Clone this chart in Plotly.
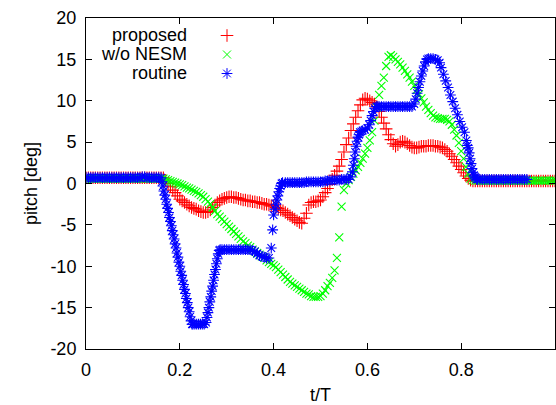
import plotly.graph_objects as go

# ---- data ----
series_names = ["proposed", "w/o NESM", "routine"]
x_tick_vals = [0, 0.2, 0.4, 0.6, 0.8, 1.0]
x_tick_text = ["0", "0.2", "0.4", "0.6", "0.8", "1"]
y_tick_vals = [-20, -15, -10, -5, 0, 5, 10, 15, 20]
y_tick_text = ["-20", "-15", "-10", "-5", "0", "5", "10", "15", "20"]

# proposed: sampled every 0.005 of t/T from 0 to 1
pitch_proposed = [
    0.7, 0.7, 0.7, 0.7, 0.7, 0.7, 0.7, 0.7, 0.7, 0.7,
    0.7, 0.7, 0.7, 0.7, 0.7, 0.7, 0.7, 0.7, 0.7, 0.7,
    0.7, 0.7, 0.7, 0.7, 0.7, 0.7, 0.7, 0.7, 0.7, 0.7,
    0.7, 0.7, 0.7, 0.7, 0.4, 0.0, -0.4, -0.8, -1.1, -1.5,
    -1.9, -2.1, -2.3, -2.5, -2.7, -2.9, -3.0, -3.1, -3.3, -3.4,
    -3.5, -3.5, -3.4, -3.2, -2.9, -2.6, -2.3, -2.1, -1.9, -1.8,
    -1.7, -1.6, -1.6, -1.7, -1.7, -1.8, -1.9, -2.0, -2.0, -2.1,
    -2.1, -2.2, -2.2, -2.3, -2.3, -2.4, -2.5, -2.5, -2.6, -2.7,
    -2.7, -2.9, -3.0, -3.2, -3.3, -3.5, -3.7, -3.9, -4.1, -4.3,
    -4.5, -4.7, -4.8, -4.2, -3.6, -2.6, -2.3, -2.2, -2.2, -2.1,
    -2.0, -1.6, -1.1, -0.6, -0.1, 0.5, 1.0, 1.5, 2.1, 2.9,
    3.8, 4.7, 5.5, 6.4, 7.2, 8.0, 8.8, 9.5, 10.1, 10.3,
    10.2, 10.0, 9.8, 9.6, 9.3, 8.7, 8.0, 7.3, 6.6, 5.9,
    5.3, 4.8, 4.5, 4.7, 5.0, 5.1, 5.0, 4.8, 4.6, 4.4,
    4.3, 4.3, 4.4, 4.5, 4.5, 4.5, 4.6, 4.6, 4.6, 4.5,
    4.5, 4.4, 4.3, 4.1, 3.9, 3.6, 3.3, 2.9, 2.5, 2.1,
    1.7, 1.3, 0.9, 0.6, 0.4, 0.3, 0.3, 0.3, 0.3, 0.3,
    0.3, 0.3, 0.3, 0.3, 0.3, 0.3, 0.3, 0.3, 0.3, 0.3,
    0.3, 0.3, 0.3, 0.3, 0.3, 0.3, 0.3, 0.3, 0.3, 0.3,
    0.3, 0.3, 0.3, 0.3, 0.3, 0.3, 0.3, 0.3, 0.3, 0.3,
    0.3,
]

# w/o NESM: sampled every 0.005 of t/T from 0 to 1
pitch_wo_nesm = [
    0.6, 0.6, 0.6, 0.6, 0.6, 0.6, 0.6, 0.6, 0.6, 0.6,
    0.6, 0.6, 0.6, 0.6, 0.6, 0.6, 0.6, 0.6, 0.6, 0.6,
    0.6, 0.6, 0.6, 0.6, 0.6, 0.6, 0.6, 0.6, 0.6, 0.6,
    0.6, 0.6, 0.6, 0.6, 0.5, 0.4, 0.3, 0.2, 0.1, 0.0,
    -0.1, -0.2, -0.35, -0.5, -0.6, -0.75, -0.9, -1.0, -1.2, -1.4,
    -1.6, -1.9, -2.2, -2.5, -2.9, -3.3, -3.7, -4.0, -4.3, -4.6,
    -4.9, -5.2, -5.5, -5.8, -6.1, -6.4, -6.7, -7.0, -7.2, -7.5,
    -7.7, -8.0, -8.2, -8.4, -8.6, -8.8, -9.0, -9.3, -9.5, -9.7,
    -9.9, -10.1, -10.4, -10.7, -11.0, -11.3, -11.6, -11.9, -12.1, -12.3,
    -12.5, -12.7, -12.9, -13.1, -13.3, -13.4, -13.6, -13.7, -13.7, -13.7,
    -13.6, -13.3, -12.9, -12.4, -12.0, -11.4, -10.5, -9.0, -6.5, -2.8,
    -0.8, 0.0, 0.4, 0.8, 1.2, 1.6, 2.0, 2.5, 3.0, 3.6,
    4.3, 5.2, 6.2, 7.6, 9.2, 10.7, 11.8, 12.8, 14.2, 15.3,
    15.5, 15.3, 15.0, 14.7, 14.4, 14.0, 13.6, 13.2, 12.8, 12.3,
    11.8, 11.3, 10.8, 10.3, 9.8, 9.3, 8.9, 8.5, 8.2, 8.0,
    7.9, 7.8, 7.8, 7.8, 7.7, 7.5, 7.1, 6.5, 5.8, 4.9,
    3.9, 3.0, 2.0, 1.2, 0.6, 0.4, 0.35, 0.35, 0.35, 0.35,
    0.35, 0.35, 0.35, 0.35, 0.35, 0.35, 0.35, 0.35, 0.35, 0.35,
    0.35, 0.35, 0.35, 0.35, 0.35, 0.35, 0.35, 0.35, 0.35, 0.35,
    0.35, 0.35, 0.35, 0.35, 0.35, 0.35, 0.35, 0.35, 0.35, 0.35,
    0.35,
]

t_uniform = [round(i * 0.005, 3) for i in range(201)]

# routine: irregular sample times (denser where the curve moves fast)
t_routine = [
    0.000, 0.005, 0.010, 0.015, 0.020, 0.025, 0.030, 0.035, 0.040, 0.045,
    0.050, 0.055, 0.060, 0.065, 0.070, 0.075, 0.080, 0.085, 0.090, 0.095,
    0.100, 0.105, 0.110, 0.115, 0.120, 0.125, 0.130, 0.135, 0.140, 0.145,
    0.150, 0.155, 0.160,
    0.162, 0.164, 0.166, 0.168, 0.170, 0.172, 0.174, 0.176, 0.178, 0.180,
    0.182, 0.184, 0.186, 0.188, 0.190, 0.192, 0.194, 0.196, 0.198, 0.200,
    0.202, 0.204, 0.206, 0.208, 0.210, 0.212, 0.214, 0.216, 0.218, 0.220,
    0.222, 0.224, 0.226, 0.228,
    0.232, 0.236, 0.240, 0.244, 0.248, 0.252, 0.256,
    0.258, 0.260, 0.262, 0.264, 0.266, 0.268, 0.270, 0.272, 0.274, 0.276,
    0.278, 0.280, 0.282, 0.284, 0.286,
    0.290, 0.295, 0.300, 0.305, 0.310, 0.315, 0.320, 0.325, 0.330, 0.335,
    0.340, 0.345, 0.350, 0.355, 0.360,
    0.365, 0.370, 0.375, 0.380, 0.385, 0.390, 0.395,
    0.398, 0.400, 0.403, 0.405, 0.407, 0.409, 0.411, 0.413, 0.415, 0.417, 0.419,
    0.425, 0.430, 0.435, 0.440, 0.445, 0.450, 0.455, 0.460, 0.465, 0.470,
    0.475, 0.480, 0.485, 0.490, 0.495, 0.500, 0.505, 0.510, 0.515, 0.520,
    0.525, 0.530, 0.535, 0.540, 0.545, 0.550, 0.555, 0.560,
    0.564, 0.568, 0.570, 0.572, 0.574, 0.576, 0.578, 0.580, 0.582, 0.584,
    0.587, 0.590, 0.595, 0.600, 0.604, 0.607, 0.610, 0.613, 0.616, 0.619, 0.622,
    0.625, 0.630, 0.635, 0.640, 0.645, 0.650, 0.655, 0.660, 0.665, 0.670,
    0.675, 0.680, 0.685, 0.690, 0.695, 0.700,
    0.703, 0.706, 0.709, 0.712, 0.715, 0.718, 0.721, 0.724, 0.727, 0.730,
    0.735, 0.740, 0.745, 0.750, 0.754,
    0.757, 0.762, 0.767, 0.772, 0.777, 0.782, 0.787, 0.792, 0.797, 0.802,
    0.807, 0.811, 0.813, 0.815, 0.817, 0.819, 0.821, 0.823, 0.825, 0.827,
    0.829, 0.831, 0.833,
    0.835, 0.840, 0.845, 0.850, 0.855, 0.860, 0.865, 0.870, 0.875, 0.880,
    0.885, 0.890, 0.895, 0.900, 0.905, 0.910, 0.915, 0.920, 0.925, 0.930,
    0.935, 0.940, 0.945,
]
pitch_routine = [
    0.7, 0.7, 0.7, 0.7, 0.7, 0.7, 0.7, 0.7, 0.7, 0.7,
    0.7, 0.7, 0.7, 0.7, 0.7, 0.7, 0.7, 0.7, 0.7, 0.7,
    0.7, 0.7, 0.7, 0.7, 0.8, 0.8, 0.7, 0.7, 0.7, 0.7,
    0.7, 0.7, 0.7,
    0.2, -0.3, -0.9, -1.4, -1.9, -2.5, -3.0, -3.5, -4.1,
    -4.6, -5.1, -5.7, -6.2, -6.7, -7.3, -7.8, -8.4, -8.9, -9.5,
    -10.0, -10.6, -11.1, -11.7, -12.2, -12.8, -13.3, -13.9, -14.4, -15.0,
    -15.5, -16.1, -16.6, -17.0,
    -17.0, -17.0, -17.0, -17.0, -17.0, -17.0, -17.0,
    -16.8, -16.2, -15.6, -15.0, -14.3, -13.7, -13.0, -12.4, -11.7, -11.0,
    -10.4, -9.7, -9.1, -8.5, -8.1,
    -8.0, -8.0, -8.0, -8.0, -8.0, -8.0, -8.0, -8.0, -8.0, -8.0,
    -8.0, -8.0, -8.0, -8.0, -8.1,
    -8.2, -8.5, -8.7, -8.8, -8.9, -9.0, -9.0,
    -7.8, -5.6, -3.8, -3.1, -2.5, -2.0, -1.5, -1.0, -0.6, -0.3, 0.0,
    0.1, 0.1, 0.1, 0.1, 0.1, 0.1, 0.1, 0.1, 0.1, 0.1,
    0.2, 0.2, 0.2, 0.2, 0.2, 0.2, 0.2, 0.2, 0.3, 0.3,
    0.4, 0.4, 0.4, 0.4, 0.4, 0.5, 0.5, 0.5,
    0.5, 0.8, 1.4, 2.2, 3.0, 3.8, 4.5, 5.1, 5.6, 5.9,
    6.2, 6.3, 6.4, 6.5, 6.7, 7.1, 7.6, 8.2, 8.7, 9.1, 9.3,
    9.3, 9.3, 9.3, 9.3, 9.3, 9.3, 9.3, 9.3, 9.3, 9.3,
    9.3, 9.3, 9.3, 9.3, 9.3, 9.3,
    9.6, 10.2, 10.9, 11.6, 12.3, 13.0, 13.6, 14.2, 14.7, 15.0,
    15.1, 15.1, 15.1, 15.0, 14.9,
    14.6, 14.0, 13.2, 12.4, 11.6, 10.7, 9.9, 9.1, 8.3, 7.5,
    6.8, 6.2, 5.2, 4.6, 4.3, 3.7, 3.0, 2.4, 1.8, 1.3,
    1.0, 0.8, 0.7,
    0.5, 0.5, 0.5, 0.5, 0.5, 0.5, 0.5, 0.5, 0.5, 0.5,
    0.5, 0.5, 0.5, 0.5, 0.5, 0.5, 0.5, 0.5, 0.5, 0.5,
    0.5, 0.5, 0.5,
]

# ---- styling ----
FONT = "Liberation Sans, Arial, sans-serif"
FS = 18
colors = ["#ff0000", "#00ff00", "#0000ff"]
symbols = ["cross-thin", "x-thin", "asterisk"]
sizes = [9, 8, 9]

# full-window figure (body margin removed below); plot frame at x 86..555, y 18..349
W, H = 556, 405
L, R, T, B = 86, 1, 18, 56
PW, PH = W - L - R, H - T - B

fig = go.Figure()
xs = [t_uniform, t_uniform, t_routine]
ys = [pitch_proposed, pitch_wo_nesm, pitch_routine]
for name, x, y, c, s, sz in zip(series_names, xs, ys, colors, symbols, sizes):
    fig.add_trace(go.Scatter(
        x=x, y=y, mode="markers", name=name, showlegend=False,
        marker=dict(symbol=s, size=sz, color=c, line=dict(color=c, width=1.1)),
    ))

# legend: symbols only (plotly legend), texts as right-aligned annotations
for c, s, sz in zip(colors, symbols, sizes):
    fig.add_trace(go.Scatter(
        x=[None], y=[None], mode="markers", name="", showlegend=True,
        marker=dict(symbol=s, size=sz, color=c, line=dict(color=c, width=1)),
    ))

for i, name in enumerate(series_names):
    fig.add_annotation(
        text=name, xref="paper", yref="paper",
        x=(189 - L) / PW, y=1 - (35 + 19 * i - T) / PH,
        xanchor="right", yanchor="middle", showarrow=False,
        font=dict(family=FONT, size=FS, color="black"),
    )

fig.update_layout(
    width=W, height=H,
    margin=dict(l=L, r=R, t=T, b=B, autoexpand=False),
    paper_bgcolor="white", plot_bgcolor="white",
    font=dict(family=FONT, size=FS, color="black"),
    showlegend=True,
    legend=dict(
        x=(207 - L) / PW, y=1 - (21 - T) / PH, xanchor="left", yanchor="top",
        bgcolor="rgba(0,0,0,0)", itemwidth=30, tracegroupgap=0,
        font=dict(family=FONT, size=11),
    ),
    xaxis=dict(
        range=[0, 1], tickvals=x_tick_vals, ticktext=x_tick_text,
        ticks="inside", ticklen=6, tickcolor="black", tickwidth=1,
        showline=True, linecolor="black", linewidth=1, mirror="ticks",
        showgrid=False, zeroline=False, automargin=False,
        title=dict(text="t/T", standoff=14, font=dict(family=FONT, size=FS)),
        ticklabelstandoff=4,
    ),
    yaxis=dict(
        range=[-20, 20], tickvals=y_tick_vals, ticktext=y_tick_text,
        ticks="inside", ticklen=6, tickcolor="black", tickwidth=1,
        showline=True, linecolor="black", linewidth=1, mirror="ticks",
        showgrid=False, zeroline=False, automargin=False,
        title=dict(text="pitch [deg]", standoff=8, font=dict(family=FONT, size=FS)),
        ticklabelstandoff=5,
    ),
)

fig.write_html(
    "out.html",
    config={"displayModeBar": False},
    post_script="document.body.style.margin='0';document.body.style.overflow='hidden';",
)
